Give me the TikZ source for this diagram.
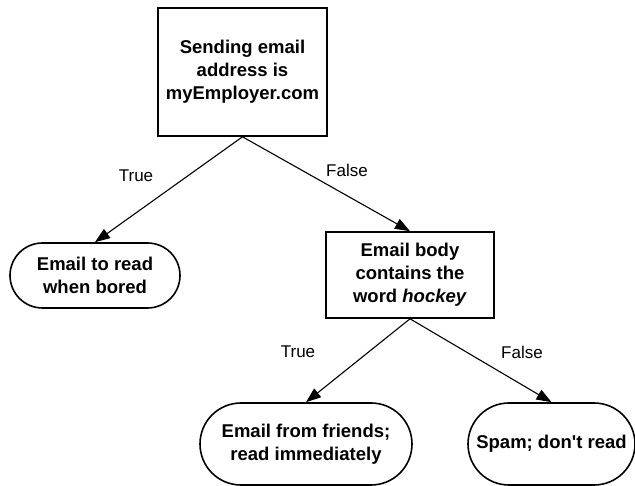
\documentclass[tikz,border=0pt]{standalone}
\usepackage{fontspec}
\setmainfont{Liberation Sans}[Ligatures=TeXOff]
\usetikzlibrary{shapes.misc,arrows.meta}
\tikzset{
  box/.style={draw, line width=1.6pt, rectangle, align=center, inner sep=0pt, font=\fontsize{18.5}{23}\selectfont\bfseries},
  leaf/.style={draw, line width=1.6pt, rounded rectangle, align=center, inner sep=0pt, font=\fontsize{18.5}{23}\selectfont\bfseries},
  edge/.style={line width=1.1pt, -{Triangle[length=15pt,width=11pt]}},
  lab/.style={font=\fontsize{17}{20}\selectfont}
}
\begin{document}
\begin{tikzpicture}[x=1pt,y=-1pt]
\useasboundingbox (0,0) rectangle (635,486);
\node[box, minimum width=169pt, minimum height=128pt] (root) at (242.5,72) {Sending email\\address is\\myEmployer.com};
\node[leaf, minimum width=170pt, minimum height=65pt] (bored) at (95,275.5) {Email to read\\when bored};
\node[box, minimum width=168pt, minimum height=86pt] (body) at (410,275) {Email body\\contains the\\word \textit{hockey}};
\node[leaf, minimum width=212pt, minimum height=82pt] (friends) at (306,444) {Email from friends;\\read immediately};
\node[leaf, minimum width=167pt, minimum height=82pt] (spam) at (551.5,444) {Spam; don't read};
\draw[edge] (root.south) -- (bored.north);
\draw[edge] (root.south) -- (body.north);
\draw[edge] (body.south) -- (friends.north);
\draw[edge] (body.south) -- (spam.north);
\node[lab] (t1) at (136,176) {True};
\node[lab] (f1) at (347,170) {False};
\node[lab] (t2) at (298,352) {True};
\node[lab] (f2) at (522,352) {False};
\end{tikzpicture}
\end{document}
